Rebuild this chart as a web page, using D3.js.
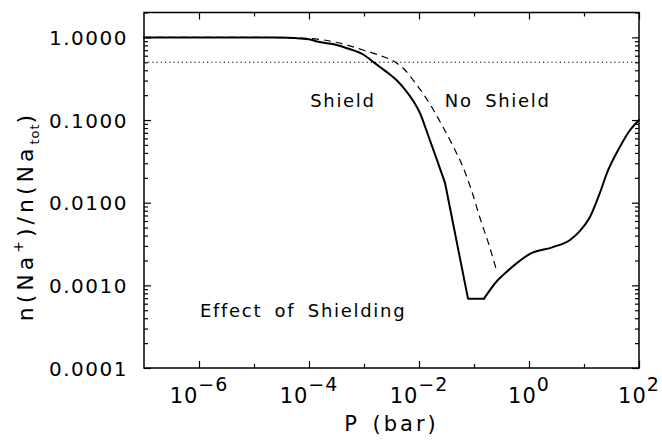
<!DOCTYPE html>
<html>
<head>
<meta charset="utf-8">
<script src="https://cdn.jsdelivr.net/npm/d3@7"></script>
<style>
  body { margin: 0; background: #fff; }
  svg text { font-family: "DejaVu Sans", sans-serif; fill: #000; }
</style>
</head>
<body>
<div id="chart"></div>
<script>
// pressure (bar) and ion fraction
var shieldP = [1e-7, 1e-5, 2.96e-5, 1e-4, 1.4e-4, 3.2e-4, 4.9e-4, 1.0e-3, 1.4e-3, 1.95e-3, 2.73e-3, 3.98e-3, 6.05e-3, 8.1e-3, 1.04e-2, 1.46e-2, 2.12e-2, 2.97e-2,
    7.78e-2, 0.152, 0.262, 0.337, 0.556, 1.04, 2.73, 5.56, 8.45, 12.9, 19.5, 26.2, 45.1, 63.1, 100];
var shieldN = [1.0, 1.0, 1.0, 0.95, 0.89, 0.81, 0.74, 0.612, 0.518, 0.438, 0.371, 0.301, 0.218, 0.165, 0.1217, 0.0659, 0.0329, 0.0174,
    0.00069, 0.00069, 0.00113, 0.00133, 0.00178, 0.0024, 0.0029, 0.00354, 0.00457, 0.00676, 0.0132, 0.0229, 0.0475, 0.0697, 0.1];

var noShieldP = [1e-7, 1e-5, 1e-4, 3.23e-4, 9.6e-4, 1.95e-3, 3.66e-3, 5.56e-3, 7.78e-3, 1.135e-2, 1.58e-2, 2.73e-2, 4.15e-2, 6.3e-2, 9.2e-2, 0.1285, 0.1875, 0.262];
var noShieldN = [1.0, 1.0, 0.97, 0.867, 0.704, 0.604, 0.504, 0.403, 0.305, 0.218, 0.156, 0.0824, 0.0485, 0.027, 0.0135, 0.00653, 0.00308, 0.00145];

var halfLevel = 0.5;

var xMajorTicks = [1e-6, 1e-4, 1e-2, 1e0, 1e2];
var xMinorTicks = [1e-5, 1e-3, 1e-1, 1e1];
var xTickExp = ["\u22126", "\u22124", "\u22122", "0", "2"];
var yMajorTicks = [1e-4, 1e-3, 1e-2, 1e-1, 1];

var labels = [
    { text: "Shield", p: 1.05e-4, v: 0.144 },
    { text: "No Shield", p: 2.95e-2, v: 0.144 },
    { text: "Effect of Shielding", p: 1.04e-6, v: 0.00041 }
];

function init() {
    var width = 662, height = 440;
    var margin = { top: 12.5, right: 23, bottom: 72, left: 144 };

    var svg = d3.select("#chart").append("svg")
        .attr("width", width)
        .attr("height", height);

    svg.append("rect").attr("width", width).attr("height", height).attr("fill", "#fff");

    var x = d3.scaleLog().domain([1e-7, 1e2]).range([margin.left, width - margin.right]);
    var y = d3.scaleLog().domain([1e-4, 2]).range([height - margin.bottom, margin.top]);

    // y minor ticks: 2..9 in each decade
    var yMinorTicks = [];
    for (var e = -4; e <= 0; e++) {
        for (var m = 2; m <= 9; m++) {
            var v = m * Math.pow(10, e);
            if (v <= 2.001) yMinorTicks.push(v);
        }
    }

    function styleAxis(g) {
        g.select(".domain").remove();
        g.selectAll("line").attr("stroke", "#000").attr("stroke-width", 1.2);
    }

    // bottom
    svg.append("g").attr("transform", "translate(0," + y.range()[0] + ")")
        .call(d3.axisBottom(x).tickValues(xMajorTicks).tickSize(-7).tickSizeOuter(0).tickFormat(""))
        .call(styleAxis);
    svg.append("g").attr("transform", "translate(0," + y.range()[0] + ")")
        .call(d3.axisBottom(x).tickValues(xMinorTicks).tickSize(-4).tickSizeOuter(0).tickFormat(""))
        .call(styleAxis);
    // top
    svg.append("g").attr("transform", "translate(0," + margin.top + ")")
        .call(d3.axisTop(x).tickValues(xMajorTicks).tickSize(-7).tickSizeOuter(0).tickFormat(""))
        .call(styleAxis);
    svg.append("g").attr("transform", "translate(0," + margin.top + ")")
        .call(d3.axisTop(x).tickValues(xMinorTicks).tickSize(-4).tickSizeOuter(0).tickFormat(""))
        .call(styleAxis);

    // left
    var yAxis = svg.append("g").attr("transform", "translate(" + x.range()[0] + ",0)")
        .call(d3.axisLeft(y).tickValues(yMajorTicks).tickSize(-7).tickSizeOuter(0)
            .tickPadding(16).tickFormat(d3.format(".4f")))
        .call(styleAxis);
    yAxis.selectAll("text")
        .attr("font-family", "DejaVu Sans")
        .attr("font-size", 20)
        .attr("letter-spacing", 1.5)
        .attr("dy", "0.36em");
    svg.append("g").attr("transform", "translate(" + x.range()[0] + ",0)")
        .call(d3.axisLeft(y).tickValues(yMinorTicks).tickSize(-4).tickSizeOuter(0).tickFormat(""))
        .call(styleAxis);
    // right
    svg.append("g").attr("transform", "translate(" + x.range()[1] + ",0)")
        .call(d3.axisRight(y).tickValues(yMajorTicks).tickSize(-7).tickSizeOuter(0).tickFormat(""))
        .call(styleAxis);
    svg.append("g").attr("transform", "translate(" + x.range()[1] + ",0)")
        .call(d3.axisRight(y).tickValues(yMinorTicks).tickSize(-4).tickSizeOuter(0).tickFormat(""))
        .call(styleAxis);

    // frame
    svg.append("rect")
        .attr("x", x.range()[0]).attr("y", y.range()[1])
        .attr("width", x.range()[1] - x.range()[0])
        .attr("height", y.range()[0] - y.range()[1])
        .attr("fill", "none").attr("stroke", "#000").attr("stroke-width", 1.5);

    // x tick labels 10^n
    var xl = svg.append("g").selectAll("text")
        .data(xMajorTicks)
        .enter().append("text")
        .attr("x", function (d) { return x(d); })
        .attr("y", 403)
        .attr("text-anchor", "middle")
        .attr("font-size", 21)
        .attr("letter-spacing", 1);
    xl.append("tspan").text("10");
    xl.append("tspan")
        .attr("dy", -12)
        .attr("font-size", 19)
        .text(function (d, i) { return xTickExp[i]; });

    // dotted 0.5 line
    svg.append("line")
        .attr("x1", x.range()[0]).attr("x2", x.range()[1])
        .attr("y1", y(halfLevel)).attr("y2", y(halfLevel))
        .attr("stroke", "#000").attr("stroke-width", 1)
        .attr("stroke-dasharray", "1.2,3");

    var smooth = d3.line()
        .x(function (d) { return x(d[0]); })
        .y(function (d) { return y(d[1]); })
        .curve(d3.curveMonotoneX);
    var straight = d3.line()
        .x(function (d) { return x(d[0]); })
        .y(function (d) { return y(d[1]); });

    svg.append("path")
        .datum(d3.zip(noShieldP, noShieldN))
        .attr("d", smooth)
        .attr("fill", "none").attr("stroke", "#000").attr("stroke-width", 1.2)
        .attr("stroke-dasharray", "7,5");

    // shielded curve: smooth parts, with the sharp drop and floor drawn straight
    var shield = d3.zip(shieldP, shieldN);
    var kinkA = 2.97e-2, kinkB = 0.152;
    var pieces = [
        { pts: shield.filter(function (d) { return d[0] <= kinkA; }), gen: smooth },
        { pts: shield.filter(function (d) { return d[0] >= kinkA && d[0] <= kinkB; }), gen: straight },
        { pts: shield.filter(function (d) { return d[0] >= kinkB; }), gen: smooth }
    ];
    svg.append("g").selectAll("path")
        .data(pieces)
        .enter().append("path")
        .attr("d", function (d) { return d.gen(d.pts); })
        .attr("fill", "none").attr("stroke", "#000").attr("stroke-width", 2)
        .attr("stroke-linejoin", "round").attr("stroke-linecap", "round");

    // annotations
    svg.append("g").selectAll("text")
        .data(labels)
        .enter().append("text")
        .attr("x", function (d) { return x(d.p); })
        .attr("y", function (d) { return y(d.v); })
        .attr("font-size", 18)
        .attr("letter-spacing", 1.7)
        .attr("word-spacing", 5)
        .text(function (d) { return d.text; });

    // axis titles
    svg.append("text")
        .attr("x", (x.range()[0] + x.range()[1]) / 2)
        .attr("y", 431)
        .attr("text-anchor", "middle")
        .attr("font-size", 21)
        .attr("letter-spacing", 3)
        .attr("word-spacing", 3)
        .text("P (bar)");

    var yt = svg.append("text")
        .attr("transform", "translate(33,216) rotate(-90)")
        .attr("text-anchor", "middle")
        .attr("font-size", 22)
        .attr("letter-spacing", 4);
    yt.append("tspan").text("n(Na");
    yt.append("tspan").attr("dy", -10).attr("font-size", 14).text("+");
    yt.append("tspan").attr("dy", 10).text(")/n(Na");
    yt.append("tspan").attr("dy", 6).attr("font-size", 13).attr("letter-spacing", 1).text("tot");
    yt.append("tspan").attr("dy", -6).text(")");
}

init();
</script>
</body>
</html>
